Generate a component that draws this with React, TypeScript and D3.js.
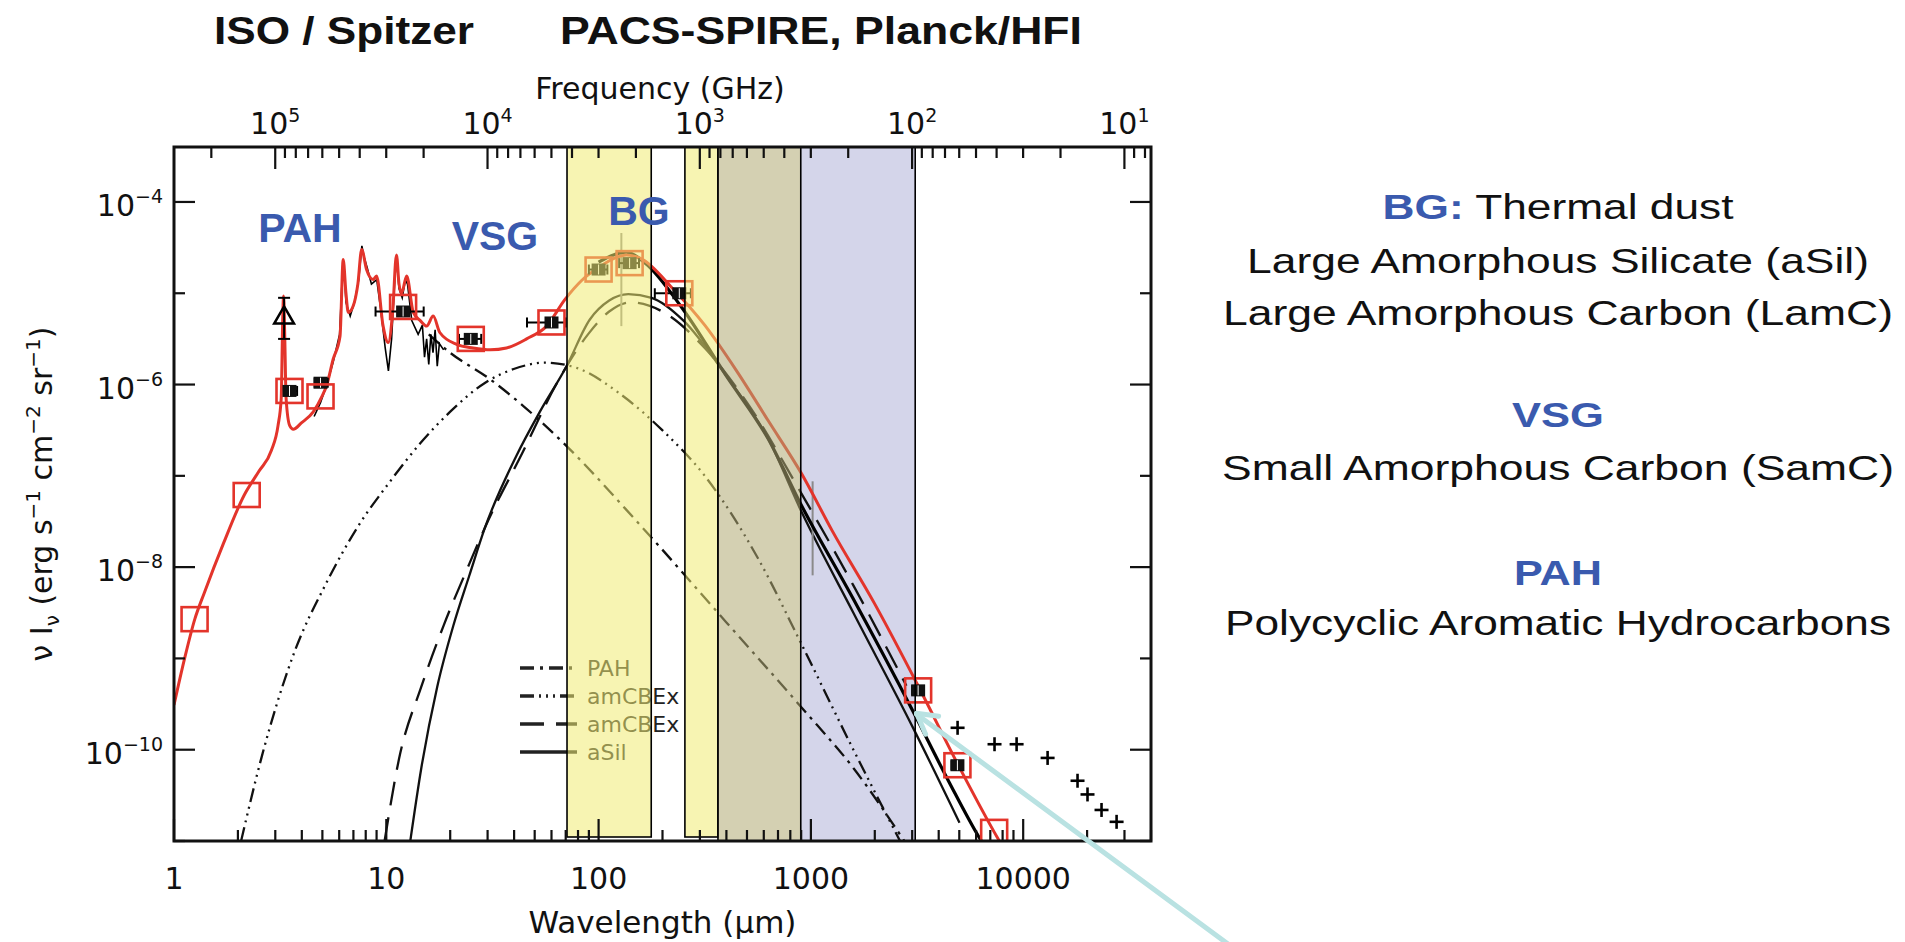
import React, { useEffect, useRef } from "react";
import * as d3 from "d3";

// Values: log10 wavelength (micron) and log10 nu*I_nu (erg s-1 cm-2 sr-1)

// total model (red)
const totalLogLam = [0.0, 0.05, 0.098, 0.143, 0.233, 0.331, 0.4, 0.459, 0.49, 0.505, 0.512, 0.516, 0.521, 0.528, 0.545, 0.562, 0.6, 0.656, 0.697, 0.719, 0.75, 0.782, 0.797, 0.81, 0.821, 0.844, 0.866, 0.884, 0.907, 0.938, 0.954, 0.985, 1.009, 1.03, 1.048, 1.06, 1.072, 1.096, 1.127, 1.16, 1.19, 1.221, 1.252, 1.331, 1.409, 1.49, 1.566, 1.661, 1.755, 1.841, 1.92, 2.006, 2.08, 2.131, 2.2, 2.35, 2.5, 2.65, 2.8, 2.957, 3.1, 3.3, 3.505, 3.69, 3.863, 3.9];
const totalLogI = [-9.51, -9.0, -8.57, -8.28, -7.74, -7.21, -6.95, -6.72, -6.45, -6.15, -5.3, -5.03, -5.4, -6.15, -6.45, -6.49, -6.42, -6.3, -6.13, -6.01, -5.72, -5.47, -4.63, -5.0, -5.21, -5.14, -4.9, -4.52, -4.74, -4.85, -4.81, -5.36, -5.54, -5.2, -4.58, -4.9, -5.0, -4.81, -5.21, -5.3, -5.36, -5.25, -5.43, -5.56, -5.6, -5.62, -5.6, -5.5, -5.36, -5.07, -4.86, -4.71, -4.61, -4.58, -4.62, -4.95, -5.35, -5.85, -6.4, -6.98, -7.6, -8.4, -9.3, -10.15, -10.9, -11.05];

// observed mid-IR spectrum (ISO / Spitzer, thin black)
const specLogLam = [0.66, 0.69, 0.72, 0.75, 0.78, 0.795, 0.8, 0.81, 0.83, 0.85, 0.87, 0.885, 0.895, 0.91, 0.93, 0.955, 0.975, 0.995, 1.01, 1.025, 1.04, 1.048, 1.06, 1.075, 1.09, 1.1, 1.12, 1.15, 1.17, 1.18, 1.19, 1.2, 1.21, 1.22, 1.23, 1.24, 1.25, 1.27];
const specLogI = [-6.35, -6.2, -6.0, -5.75, -5.45, -4.7, -4.65, -5.1, -5.25, -5.1, -4.85, -4.48, -4.6, -4.72, -4.9, -4.85, -5.2, -5.6, -5.85, -5.5, -4.85, -4.6, -4.95, -5.05, -4.85, -4.9, -5.3, -5.45, -5.35, -5.7, -5.5, -5.78, -5.45, -5.65, -5.4, -5.8, -5.55, -5.62];

// far-IR / mm observed spectrum (thick black)
const firasLogLam = [2.0, 2.07, 2.13, 2.22, 2.39, 2.6, 2.8, 2.957, 3.2, 3.479, 3.65, 3.795, 3.83];
const firasLogI = [-4.66, -4.58, -4.55, -4.67, -5.15, -5.9, -6.6, -7.33, -8.35, -9.57, -10.35, -10.97, -11.1];

// model components
const pahLogLam = [1.2, 1.3, 1.488, 1.643, 1.83, 2.2, 2.6, 2.957, 3.2, 3.44];
const pahLogI = [-5.45, -5.65, -5.94, -6.23, -6.63, -7.55, -8.6, -9.54, -10.2, -11.0];

const vsgLogLam = [0.316, 0.414, 0.564, 0.714, 0.865, 1.015, 1.165, 1.3, 1.466, 1.6, 1.75, 1.9, 2.1, 2.3, 2.5, 2.75, 2.957, 3.2, 3.42];
const vsgLogI = [-11, -10.07, -8.95, -8.19, -7.56, -7.07, -6.63, -6.3, -5.98, -5.83, -5.76, -5.82, -6.1, -6.5, -7.0, -7.9, -8.85, -10.0, -11.0];

const amcLogLam = [0.992, 1.06, 1.165, 1.27, 1.39, 1.466, 1.643, 1.8, 1.95, 2.05, 2.15, 2.3, 2.5, 2.7, 2.957, 3.2, 3.45];
const amcLogI = [-11, -10.1, -9.31, -8.64, -7.97, -7.56, -6.74, -6.0, -5.45, -5.2, -5.1, -5.2, -5.6, -6.2, -7.2, -8.2, -9.3];

const asilLogLam = [1.113, 1.165, 1.24, 1.316, 1.39, 1.466, 1.613, 1.723, 1.849, 1.958, 2.05, 2.14, 2.25, 2.4, 2.6, 2.8, 2.957, 3.2, 3.479, 3.7];
const asilLogI = [-11, -10.2, -9.31, -8.64, -8.1, -7.56, -6.78, -6.3, -5.8, -5.29, -5.08, -5.01, -5.05, -5.3, -5.9, -6.6, -7.4, -8.5, -9.75, -10.8];

// model integrated in the photometric bands (red open squares)
const bandModelLam = [1.25, 2.2, 3.5, 4.9, 12, 25, 60, 100, 140, 240, 3200, 4900, 7300];
const bandModelLogI = [-8.57, -7.21, -6.07, -6.13, -5.15, -5.5, -5.32, -4.74, -4.67, -5.0, -9.35, -10.17, -10.9];

// observed photometry (black filled) with wavelength ranges
const obsLam = [3.5, 4.9, 12, 25, 60, 100, 140, 240, 3200, 4900];
const obsLogI = [-6.07, -5.98, -5.2, -5.5, -5.32, -4.74, -4.67, -5.0, -9.35, -10.17];
const obsLamLo = [3.3, 4.6, 8.9, 22, 46, 90, 125, 184, 3000, 4600];
const obsLamHi = [3.8, 5.3, 15, 28, 70, 110, 155, 272, 3400, 5200];

// 3.3 micron point (triangle) and its error bar
const triLam = [3.3];
const triLogI = [-5.27];
const triLogLo = [-5.5];
const triLogHi = [-5.05];

// mm / cm points (crosses)
const crossLam = [4909, 7328, 9311, 13032, 18030, 20090, 23390, 27540];
const crossLogI = [-9.76, -9.94, -9.94, -10.09, -10.34, -10.49, -10.66, -10.79];

// vertical grey error bars
const greyLam = [128, 1019];
const greyLogLo = [-5.36, -8.09];
const greyLogHi = [-4.34, -7.06];

// instrument bands (micron)
const bandLo = [71, 255, 365, 896];
const bandHi = [177, 365, 896, 3100];
const bandKind = ["yellow", "yellow", "tan", "lavender"];

// axis ticks
const xTickLabels = ["1", "10", "100", "1000", "10000"];
const yTickExps = [-4, -6, -8, -10];
const freqTickExps = [5, 4, 3, 2, 1];

const legendNames = ["PAH", "amCBEx", "amCBEx", "aSil"];
const legendDash = ["14,6,3,6", "14,5,2,5,2,5,2,5", "24,12", "none"];

// component names written inside the plot (wavelength, intensity of baseline)
const plotLabels = ["PAH", "VSG", "BG"];
const plotLabelLam = [3.92, 32.5, 155];
const plotLabelI = [3.66e-5, 3.0e-5, 5.6e-5];

const rightLines = [
  { parts: [["BG:", "blue"], [" Thermal dust", "black"]], y: 219, w: 351 },
  { parts: [["Large Amorphous Silicate (aSil)", "black"]], y: 273, w: 622 },
  { parts: [["Large Amorphous Carbon (LamC)", "black"]], y: 325, w: 670 },
  { parts: [["VSG", "blue"]], y: 427, w: 92 },
  { parts: [["Small Amorphous Carbon (SamC)", "black"]], y: 480, w: 672 },
  { parts: [["PAH", "blue"]], y: 585, w: 88 },
  { parts: [["Polycyclic Aromatic Hydrocarbons", "black"]], y: 635, w: 666 },
];

const C_GHZ_UM = 299792.458;
const BLUE = "#3a5aae";
const RED = "#e3342b";
const AXIS_FONT = "'DejaVu Sans', sans-serif";
const TEXT_FONT = "'Liberation Sans', Arial, sans-serif";

export default function App() {
  const svgRef = useRef<SVGSVGElement>(null);

  useEffect(() => {
    const svg = d3.select(svgRef.current);
    svg.selectAll("*").remove();

    // Plot box
    const left = 174, right = 1151, top = 147, bottom = 841;

    const x = d3.scaleLog().domain([1, 4e4]).range([left, right]);
    const y = d3.scaleLog().domain([1e-11, 4e-4]).range([bottom, top]);
    const f = d3.scaleLog().domain([C_GHZ_UM / 1, C_GHZ_UM / 4e4]).range([left, right]);

    const zip = (a: number[], b: number[]) => a.map((v, i) => [v, b[i]] as [number, number]);
    const line = (smooth: boolean) =>
      d3.line<[number, number]>()
        .x(d => x(Math.pow(10, d[0])))
        .y(d => y(Math.pow(10, d[1])))
        .curve(smooth ? d3.curveMonotoneX : d3.curveLinear);

    svg.append("rect").attr("width", 1905).attr("height", 942).attr("fill", "#fff");

    const defs = svg.append("defs");
    defs.append("clipPath").attr("id", "plotClip")
      .append("rect").attr("x", left).attr("y", top).attr("width", right - left).attr("height", bottom - top);

    // lavender band sits under the curves
    const plot = svg.append("g").attr("clip-path", "url(#plotClip)");
    bandKind.forEach((k, i) => {
      if (k !== "lavender") return;
      plot.append("rect")
        .attr("x", x(bandLo[i])).attr("width", x(bandHi[i]) - x(bandLo[i]))
        .attr("y", top).attr("height", bottom - top)
        .attr("fill", "#d4d5ea");
    });

    // model components
    const comps = [
      { d: zip(pahLogLam, pahLogI), dash: legendDash[0] },
      { d: zip(vsgLogLam, vsgLogI), dash: legendDash[1] },
      { d: zip(amcLogLam, amcLogI), dash: legendDash[2] },
      { d: zip(asilLogLam, asilLogI), dash: legendDash[3] },
    ];
    comps.forEach(c => {
      plot.append("path")
        .attr("d", line(true)(c.d))
        .attr("fill", "none")
        .attr("stroke", "#111")
        .attr("stroke-width", 2.3)
        .attr("stroke-dasharray", c.dash);
    });

    // grey error bars
    greyLam.forEach((l, i) => {
      plot.append("line")
        .attr("x1", x(l)).attr("x2", x(l))
        .attr("y1", y(Math.pow(10, greyLogLo[i]))).attr("y2", y(Math.pow(10, greyLogHi[i])))
        .attr("stroke", "#8a8a8a").attr("stroke-width", 2);
    });

    // observed spectra
    plot.append("path")
      .attr("d", line(false)(zip(specLogLam, specLogI)))
      .attr("fill", "none").attr("stroke", "#000").attr("stroke-width", 1.6);

    plot.append("path")
      .attr("d", line(true)(zip(firasLogLam, firasLogI)))
      .attr("fill", "none").attr("stroke", "#000").attr("stroke-width", 3.2);

    // total model
    plot.append("path")
      .attr("d", line(true)(zip(totalLogLam, totalLogI)))
      .attr("fill", "none").attr("stroke", RED).attr("stroke-width", 3);

    // observed photometry with horizontal bars
    obsLam.forEach((l, i) => {
      const cy = y(Math.pow(10, obsLogI[i]));
      plot.append("line")
        .attr("x1", x(obsLamLo[i])).attr("x2", x(obsLamHi[i]))
        .attr("y1", cy).attr("y2", cy)
        .attr("stroke", "#000").attr("stroke-width", 2);
      [obsLamLo[i], obsLamHi[i]].forEach(e => {
        plot.append("line").attr("x1", x(e)).attr("x2", x(e)).attr("y1", cy - 5).attr("y2", cy + 5)
          .attr("stroke", "#000").attr("stroke-width", 2);
      });
      plot.append("rect")
        .attr("x", x(l) - 7).attr("y", cy - 6).attr("width", 14).attr("height", 12)
        .attr("fill", "#111");
      plot.append("line").attr("x1", x(l)).attr("x2", x(l)).attr("y1", cy - 5).attr("y2", cy + 5)
        .attr("stroke", "#fff").attr("stroke-width", 1);
    });

    // triangle with error bar
    triLam.forEach((l, i) => {
      const cx = x(l), cy = y(Math.pow(10, triLogI[i]));
      const lo = y(Math.pow(10, triLogLo[i])), hi = y(Math.pow(10, triLogHi[i]));
      plot.append("line").attr("x1", cx).attr("x2", cx).attr("y1", lo).attr("y2", hi)
        .attr("stroke", "#000").attr("stroke-width", 2);
      [lo, hi].forEach(v => plot.append("line").attr("x1", cx - 6).attr("x2", cx + 6).attr("y1", v).attr("y2", v)
        .attr("stroke", "#000").attr("stroke-width", 2));
      plot.append("path")
        .attr("d", d3.symbol(d3.symbolTriangle, 170)())
        .attr("transform", `translate(${cx},${cy})`)
        .attr("fill", "none").attr("stroke", "#000").attr("stroke-width", 2.5);
    });

    // crosses
    crossLam.forEach((l, i) => {
      const cx = x(l), cy = y(Math.pow(10, crossLogI[i]));
      const g = plot.append("g").attr("stroke", "#000").attr("stroke-width", 2.6);
      g.append("line").attr("x1", cx - 7).attr("x2", cx + 7).attr("y1", cy).attr("y2", cy);
      g.append("line").attr("x1", cx).attr("x2", cx).attr("y1", cy - 7).attr("y2", cy + 7);
    });

    // model in bands: red squares
    bandModelLam.forEach((l, i) => {
      plot.append("rect")
        .attr("x", x(l) - 13).attr("y", y(Math.pow(10, bandModelLogI[i])) - 12)
        .attr("width", 26).attr("height", 24)
        .attr("fill", "none").attr("stroke", RED).attr("stroke-width", 2.6);
    });

    // legend
    const lg = svg.append("g");
    legendNames.forEach((n, i) => {
      const ly = 668 + i * 28;
      lg.append("line").attr("x1", 520).attr("x2", 577).attr("y1", ly).attr("y2", ly)
        .attr("stroke", "#222").attr("stroke-width", 3.5)
        .attr("stroke-dasharray", legendDash[i]);
      lg.append("text").attr("x", 587).attr("y", ly + 8)
        .attr("font-family", AXIS_FONT).attr("font-size", 22).attr("fill", "#222")
        .text(n);
    });

    // yellow / tan bands drawn on top, semi transparent
    bandKind.forEach((k, i) => {
      if (k === "lavender") return;
      const h = k === "yellow" ? bottom - top - 4 : bottom - top;
      svg.append("rect")
        .attr("x", x(bandLo[i])).attr("width", x(bandHi[i]) - x(bandLo[i]))
        .attr("y", top).attr("height", h)
        .attr("fill", k === "yellow" ? "#f0eb73" : "#b1aa73")
        .attr("fill-opacity", 0.55)
        .attr("stroke", "#000").attr("stroke-width", 1.6);
    });
    // lavender right edge
    svg.append("line").attr("x1", x(bandHi[3])).attr("x2", x(bandHi[3])).attr("y1", top).attr("y2", bottom)
      .attr("stroke", "#000").attr("stroke-width", 1.6);

    // in-plot labels
    plotLabels.forEach((t, i) => {
      svg.append("text")
        .attr("x", x(plotLabelLam[i])).attr("y", y(plotLabelI[i]))
        .attr("text-anchor", "middle")
        .attr("font-family", TEXT_FONT).attr("font-weight", "bold").attr("font-size", 41)
        .attr("fill", BLUE).text(t);
    });

    // frame
    svg.append("rect").attr("x", left).attr("y", top).attr("width", right - left).attr("height", bottom - top)
      .attr("fill", "none").attr("stroke", "#111").attr("stroke-width", 3);

    const axes = svg.append("g").attr("stroke", "#111").attr("stroke-width", 2.2);

    // bottom wavelength ticks
    x.ticks(40).forEach(t => {
      const major = Math.abs(Math.log10(t) - Math.round(Math.log10(t))) < 1e-9;
      const len = major ? 22 : 11;
      axes.append("line").attr("x1", x(t)).attr("x2", x(t)).attr("y1", bottom).attr("y2", bottom - len);
    });
    xTickLabels.forEach(s => {
      svg.append("text").attr("x", x(+s)).attr("y", 889)
        .attr("text-anchor", "middle").attr("font-family", AXIS_FONT).attr("font-size", 30)
        .attr("fill", "#111").text(s);
    });
    svg.append("text").attr("x", (left + right) / 2).attr("y", 933)
      .attr("text-anchor", "middle").attr("font-family", AXIS_FONT).attr("font-size", 31)
      .attr("fill", "#111").text("Wavelength (\u03bcm)");

    // top frequency ticks
    f.ticks(40).forEach(t => {
      const major = Math.abs(Math.log10(t) - Math.round(Math.log10(t))) < 1e-9;
      const len = major ? 22 : 11;
      axes.append("line").attr("x1", f(t)).attr("x2", f(t)).attr("y1", top).attr("y2", top + len);
    });
    freqTickExps.forEach(e => {
      const t = svg.append("text").attr("x", f(Math.pow(10, e))).attr("y", 134)
        .attr("text-anchor", "middle").attr("font-family", AXIS_FONT).attr("font-size", 30)
        .attr("fill", "#111");
      t.append("tspan").text("10");
      t.append("tspan").attr("dy", -12).attr("font-size", 19).text(String(e));
    });
    svg.append("text").attr("x", 660).attr("y", 99)
      .attr("text-anchor", "middle").attr("font-family", AXIS_FONT).attr("font-size", 30)
      .attr("fill", "#111").text("Frequency (GHz)");

    // y ticks, left and right
    d3.range(-11, -3).forEach(e => {
      const v = Math.pow(10, e);
      const major = yTickExps.includes(e);
      const len = major ? 21 : 11;
      axes.append("line").attr("x1", left).attr("x2", left + len).attr("y1", y(v)).attr("y2", y(v));
      axes.append("line").attr("x1", right).attr("x2", right - len).attr("y1", y(v)).attr("y2", y(v));
    });
    yTickExps.forEach(e => {
      const t = svg.append("text").attr("x", 163).attr("y", y(Math.pow(10, e)) + 14)
        .attr("text-anchor", "end").attr("font-family", AXIS_FONT).attr("font-size", 30)
        .attr("fill", "#111");
      t.append("tspan").text("10");
      t.append("tspan").attr("dy", -13).attr("font-size", 19).text("\u2212" + String(-e));
    });

    // y title
    const yt = svg.append("text")
      .attr("transform", `translate(52,${(top + bottom) / 2}) rotate(-90)`)
      .attr("text-anchor", "middle").attr("font-family", AXIS_FONT).attr("font-size", 30)
      .attr("fill", "#111");
    yt.append("tspan").text("\u03bd I");
    yt.append("tspan").attr("dy", 7).attr("font-size", 20).text("\u03bd");
    yt.append("tspan").attr("dy", -7).text(" (erg s");
    yt.append("tspan").attr("dy", -12).attr("font-size", 20).text("\u22121");
    yt.append("tspan").attr("dy", 12).text(" cm");
    yt.append("tspan").attr("dy", -12).attr("font-size", 20).text("\u22122");
    yt.append("tspan").attr("dy", 12).text(" sr");
    yt.append("tspan").attr("dy", -12).attr("font-size", 20).text("\u22121");
    yt.append("tspan").attr("dy", 12).text(")");

    // titles above the plot
    [["ISO / Spitzer", 344, 260], ["PACS-SPIRE, Planck/HFI", 821, 522]].forEach(([t, cx, w]) => {
      svg.append("text").attr("x", cx as number).attr("y", 44)
        .attr("text-anchor", "middle").attr("font-family", TEXT_FONT).attr("font-weight", "bold")
        .attr("font-size", 39).attr("textLength", w as number).attr("lengthAdjust", "spacingAndGlyphs")
        .attr("fill", "#111").text(t as string);
    });

    // right-hand notes
    rightLines.forEach(r => {
      const t = svg.append("text").attr("x", 1558).attr("y", r.y)
        .attr("text-anchor", "middle").attr("font-family", TEXT_FONT).attr("font-size", 35)
        .attr("textLength", r.w).attr("lengthAdjust", "spacingAndGlyphs");
      r.parts.forEach(([s, c]) => {
        t.append("tspan")
          .attr("fill", c === "blue" ? BLUE : "#111")
          .attr("font-weight", c === "blue" ? "bold" : "normal")
          .text(s);
      });
    });

    // cyan arrow pointing at the 3 mm point
    const tipX = x(3080), tipY = y(Math.pow(10, -9.59));
    const arrow = svg.append("g").attr("stroke", "#b9e2e2").attr("stroke-width", 5).attr("stroke-linecap", "round");
    arrow.append("line").attr("x1", tipX + 2).attr("y1", tipY + 2).attr("x2", tipX + 330).attr("y2", tipY + 244);
    arrow.append("line").attr("x1", tipX + 2).attr("y1", tipY + 1).attr("x2", tipX + 24).attr("y2", tipY + 4);
    arrow.append("line").attr("x1", tipX + 2).attr("y1", tipY + 1).attr("x2", tipX + 11).attr("y2", tipY + 22);
  }, []);

  return (
    <svg ref={svgRef} width={1905} height={942}
      style={{ position: "absolute", left: 0, top: 0, background: "#fff" }} />
  );
}
